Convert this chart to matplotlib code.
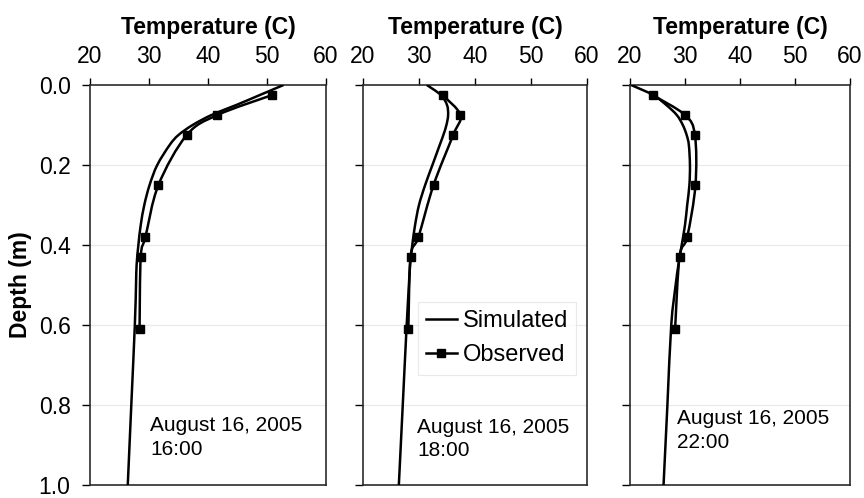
import matplotlib
matplotlib.use("Agg")
import numpy as np
import matplotlib.pyplot as plt
from matplotlib.path import Path
from matplotlib.patches import PathPatch
from matplotlib.lines import Line2D

plt.rcParams['font.family'] = ['Liberation Sans', 'DejaVu Sans']

# Observation depths (m) and measured soil temperatures (C)
depth_obs = [0.025, 0.075, 0.125, 0.25, 0.38, 0.43, 0.61]
obs_1600 = [50.9, 41.6, 36.4, 31.6, 29.4, 28.6, 28.4]
obs_1800 = [34.2, 37.4, 36.1, 32.6, 29.9, 28.5, 28.1]
obs_2200 = [24.1, 30.0, 31.8, 31.9, 30.4, 29.0, 28.2]

# Simulated profiles on the model depth grid (m)
depth_sim = [0.0, 0.025, 0.05, 0.075, 0.1, 0.125, 0.15, 0.2, 0.25, 0.3,
             0.35, 0.4, 0.45, 0.5, 0.6, 0.8, 1.0]
sim_1600 = [52.8, 48.8, 44.8, 40.6, 37.4, 35.0, 33.5, 31.4, 30.1, 29.2,
            28.6, 28.2, 27.9, 27.8, 27.6, 27.0, 26.4]
sim_1800 = [31.4, 33.9, 35.0, 35.2, 34.9, 34.35, 33.7, 32.4, 31.1, 30.0,
            29.3, 28.8, 28.4, 28.2, 27.8, 27.1, 26.4]
sim_2200 = [20.2, 24.2, 26.6, 28.5, 29.6, 30.3, 30.7, 30.9, 30.8, 30.4,
            30.0, 29.4, 28.8, 28.3, 27.5, 26.8, 26.1]

panel_notes = ["August 16, 2005\n16:00", "August 16, 2005\n18:00",
               "August 16, 2005\n22:00"]
temp_ticks = [20, 30, 40, 50, 60]
depth_ticks = [0.0, 0.2, 0.4, 0.6, 0.8, 1.0]


def smooth_line(ax, x, y, **kw):
    """Draw a smoothed (Catmull-Rom style Bezier) line through the points."""
    pts = np.column_stack([x, y]).astype(float)
    n = len(pts)
    verts = [pts[0]]
    codes = [Path.MOVETO]
    for i in range(n - 1):
        p0 = pts[i - 1] if i > 0 else pts[i]
        p1, p2 = pts[i], pts[i + 1]
        p3 = pts[i + 2] if i + 2 < n else pts[i + 1]
        verts += [p1 + (p2 - p0) / 6.0, p2 - (p3 - p1) / 6.0, p2]
        codes += [Path.CURVE4] * 3
    patch = PathPatch(Path(verts, codes), fill=False, **kw)
    ax.add_patch(patch)
    return patch


W, H = 864, 498
fig = plt.figure(figsize=(W / 100, H / 100), dpi=100)

# axes boxes in pixels: (left, right)
boxes = [(90, 326), (363, 587), (630, 850)]
top_px, bot_px = 85, 485

sims = [sim_1600, sim_1800, sim_2200]
obss = [obs_1600, obs_1800, obs_2200]
note_pos = [(0.254, 0.172), (0.241, 0.168), (0.214, 0.19)]

spine_col = "#2b2b2b"
axes = []
for i, (l, r) in enumerate(boxes):
    ax = fig.add_axes([l / W, 1 - bot_px / H, (r - l) / W, (bot_px - top_px) / H])
    axes.append(ax)
    smooth_line(ax, sims[i], depth_sim, edgecolor="black", lw=1.8, zorder=3)
    smooth_line(ax, obss[i], depth_obs, edgecolor="black", lw=1.8, zorder=4)
    ax.plot(obss[i], depth_obs, ls="none", color="black", marker="s",
            markersize=5.2, zorder=5)
    ax.set_xlim(20, 60)
    ax.set_ylim(1.0, 0.0)
    ax.set_xticks(temp_ticks)
    ax.set_yticks(depth_ticks)
    ax.xaxis.tick_top()
    ax.xaxis.set_label_position("top")
    ax.set_xlabel("Temperature (C)", fontsize=16.5, fontweight="bold", labelpad=8)
    ax.tick_params(axis="x", direction="out", length=5, width=1.0,
                   labelsize=16.5, pad=7, colors="black")
    ax.tick_params(axis="y", direction="out", length=6, width=1.0,
                   labelsize=16.5, pad=8, colors="black")
    for g in [0.2, 0.4, 0.6, 0.8]:
        ax.axhline(g, color="#e8e8e8", lw=0.8, zorder=0)
    for s in ax.spines.values():
        s.set_color(spine_col)
        s.set_linewidth(1.2)
    if i == 0:
        ax.set_yticklabels([f"{t:.1f}" for t in depth_ticks])
        ax.set_ylabel("Depth (m)", fontsize=16.5, fontweight="bold", labelpad=5)
    else:
        ax.set_yticklabels([])
    ax.text(note_pos[i][0], note_pos[i][1], panel_notes[i],
            transform=ax.transAxes, fontsize=15, va="top", ha="left",
            linespacing=1.3)

handles = [Line2D([], [], color="black", lw=1.8),
           Line2D([], [], color="black", lw=1.8, marker="s", markersize=5.2)]
leg = axes[1].legend(handles, ["Simulated", "Observed"], loc="upper left",
                     bbox_to_anchor=(0.245, 0.457), fontsize=17, frameon=True,
                     fancybox=False, handlelength=1.3, handletextpad=0.25,
                     borderpad=0.35, labelspacing=0.5, borderaxespad=0)
leg.get_frame().set_edgecolor("#e4e4e4")
leg.get_frame().set_linewidth(0.8)

fig.savefig("out.png", dpi=100)
